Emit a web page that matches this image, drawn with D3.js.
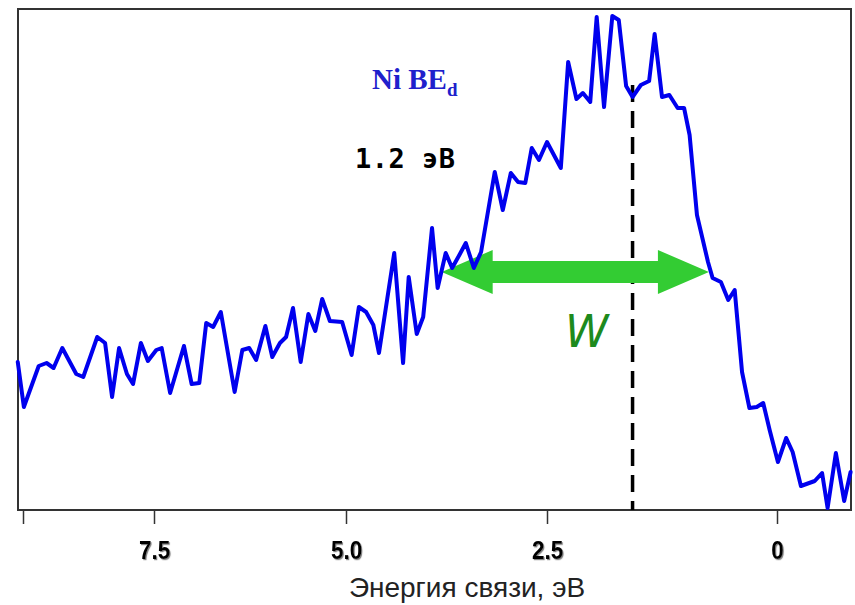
<!DOCTYPE html>
<html>
<head>
<meta charset="utf-8">
<script src="https://cdn.jsdelivr.net/npm/d3@7"></script>
<style>
  body { margin: 0; background: #fff; }
  svg { display: block; }
</style>
</head>
<body>
<svg id="chart" width="855" height="605"></svg>
<script>
// Ni valence band spectrum: binding energy (eV) and intensity (arb. units)
const energy = [
  9.06, 8.99, 8.82, 8.73, 8.65, 8.55, 8.39, 8.31, 8.15, 8.06,
  7.98, 7.90, 7.81, 7.74, 7.65, 7.57, 7.47, 7.40, 7.29, 7.11,
  7.01, 6.91, 6.82, 6.73, 6.63, 6.45, 6.35, 6.26, 6.17, 6.05,
  5.96, 5.86, 5.78, 5.69, 5.59, 5.49, 5.40, 5.31, 5.21, 5.05,
  4.93, 4.84, 4.75, 4.66, 4.59, 4.40, 4.29, 4.22, 4.12, 4.04,
  3.93, 3.86, 3.76, 3.68, 3.59, 3.51, 3.41, 3.32, 3.15, 3.05,
  2.95, 2.86, 2.77, 2.69, 2.60, 2.50, 2.35, 2.27, 2.18, 2.11,
  2.03, 1.96, 1.88, 1.79, 1.72, 1.64, 1.57, 1.48, 1.39, 1.33,
  1.25, 1.17, 1.08, 1.01, 0.95, 0.87, 0.75, 0.70, 0.61, 0.53,
  0.46, 0.38, 0.30, 0.22, 0.15, 0.08, -0.01, -0.10, -0.17, -0.26,
  -0.41, -0.49, -0.55, -0.64, -0.73, -0.80
];
const intensity = [
  29.6, 20.6, 28.8, 29.4, 28.4, 32.4, 27.2, 26.6, 34.6, 33.4,
  22.6, 32.4, 27.2, 25.2, 33.4, 29.8, 32.0, 32.4, 23.4, 32.8,
  25.2, 25.4, 37.4, 36.6, 39.6, 23.6, 32.0, 32.4, 30.0, 36.8,
  30.6, 33.4, 34.6, 40.4, 29.6, 39.2, 35.8, 42.2, 37.8, 37.6,
  31.0, 40.6, 39.6, 37.0, 31.4, 51.4, 29.4, 46.6, 35.2, 38.6,
  56.4, 44.4, 51.4, 48.4, 51.0, 53.4, 48.4, 51.6, 67.6, 60.0,
  67.4, 65.6, 65.4, 72.4, 70.0, 73.6, 68.4, 89.6, 82.2, 83.4,
  81.6, 98.6, 80.6, 98.8, 98.0, 84.8, 82.6, 85.0, 85.8, 95.2,
  82.6, 83.0, 80.4, 80.4, 75.0, 59.0, 49.6, 46.4, 45.6, 42.0,
  44.0, 27.6, 20.4, 20.6, 21.4, 16.0, 9.6, 14.4, 11.6, 4.8,
  5.8, 7.4, 0.4, 11.4, 1.8, 7.6
];

// Axis ticks (the first tick carries no label)
const tickValues = [9.0, 7.5, 5.0, 2.5, 0];
const tickLabels = ["", "7.5", "5.0", "2.5", "0"];

// Width of the d band at half maximum and the band position marker
const halfMax = 47.6;
const widthEdges = [3.81, 0.74];
const markerEnergy = 1.57;
const markerTop = 85;

const title = "Ni BE";
const titleSub = "d";
const shiftLabel = "1.2 эВ";
const widthLabel = "W";
const xTitle = "Энергия связи, эВ";

const svg = d3.select("#chart");

// Energy axis runs right-to-left; the tick spacing follows the printed axis.
const x = d3.scaleLinear()
  .domain(tickValues)
  .range([23, 154, 346, 547, 777]);
const y = d3.scaleLinear().domain([0, 100.2]).range([510, 9]);

const defs = svg.append("defs");
const shadow = defs.append("filter").attr("id", "shade")
  .attr("x", "-10%").attr("y", "-10%").attr("width", "130%").attr("height", "130%");
shadow.append("feDropShadow")
  .attr("dx", 1.2).attr("dy", 1.2).attr("stdDeviation", 0.4)
  .attr("flood-color", "#777").attr("flood-opacity", 0.9);

// Plot frame
svg.append("rect")
  .attr("x", 18).attr("y", 9).attr("width", 833).attr("height", 501)
  .attr("fill", "none").attr("stroke", "#333").attr("stroke-width", 2);

// Bottom axis
const axis = d3.axisBottom(x)
  .tickValues(tickValues)
  .tickSize(13)
  .tickPadding(17)
  .tickFormat((d, i) => tickLabels[i]);
const gx = svg.append("g").attr("transform", "translate(0,511)").call(axis);
gx.select(".domain").remove();
gx.selectAll(".tick line").attr("stroke", "#333").attr("stroke-width", 1.5);
gx.selectAll(".tick text")
  .attr("fill", "#000")
  .attr("font-family", "'Liberation Sans', Arial, sans-serif")
  .attr("font-weight", "bold")
  .attr("font-size", 25)
  .attr("transform", "scale(0.9,1)")
  .attr("filter", "url(#shade)");

svg.append("text")
  .attr("x", 467).attr("y", 597)
  .attr("text-anchor", "middle")
  .attr("font-family", "'Liberation Sans', Arial, sans-serif")
  .attr("font-size", 28)
  .attr("fill", "#222")
  .text(xTitle);

// Dashed marker at the band position
svg.append("line")
  .attr("x1", x(markerEnergy)).attr("x2", x(markerEnergy))
  .attr("y1", y(markerTop)).attr("y2", y(0))
  .attr("stroke", "#000").attr("stroke-width", 3.5)
  .attr("stroke-dasharray", "17,9");

// Double-headed arrow spanning the width at half maximum
const xl = x(widthEdges[0]), xr = x(widthEdges[1]), yc = y(halfMax);
const head = 51, hw = 22, sw = 11;
const arrowPts = [
  [xl, yc], [xl + head, yc - hw], [xl + head, yc - sw], [xr - head, yc - sw],
  [xr - head, yc - hw], [xr, yc], [xr - head, yc + hw], [xr - head, yc + sw],
  [xl + head, yc + sw], [xl + head, yc + hw]
];
svg.append("path")
  .attr("d", d3.line()(arrowPts) + "Z")
  .attr("fill", "#33cc33");

// Spectrum
const pts = energy.map((e, i) => [e, intensity[i]]);
svg.append("path")
  .datum(pts)
  .attr("d", d3.line().x(d => x(d[0])).y(d => y(d[1])))
  .attr("fill", "none")
  .attr("stroke", "#0000ee")
  .attr("stroke-width", 4)
  .attr("stroke-linejoin", "round")
  .attr("stroke-linecap", "round");

// Annotations
const t = svg.append("text")
  .attr("x", 372).attr("y", 89)
  .attr("font-family", "'Liberation Serif', 'Times New Roman', serif")
  .attr("font-weight", "bold")
  .attr("font-size", 29)
  .attr("fill", "#2020cc");
t.append("tspan").text(title);
t.append("tspan").attr("font-size", 19).attr("dy", 7).text(titleSub);

svg.append("text")
  .attr("x", 355).attr("y", 168)
  .attr("font-family", "'DejaVu Sans Mono', monospace")
  .attr("font-weight", "bold")
  .attr("font-size", 27)
  .attr("letter-spacing", 0.5)
  .attr("fill", "#000")
  .text(shiftLabel);

svg.append("text")
  .attr("x", 565).attr("y", 347)
  .attr("font-family", "'DejaVu Sans', sans-serif")
  .attr("font-style", "italic")
  .attr("font-size", 44)
  .attr("fill", "#1d8a1d")
  .text(widthLabel);
</script>
</body>
</html>
